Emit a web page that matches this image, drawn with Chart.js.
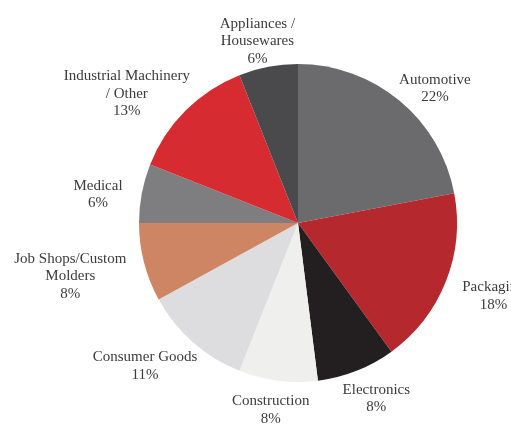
<!DOCTYPE html>
<html>
<head>
<meta charset="utf-8">
<script src="https://cdn.jsdelivr.net/npm/chart.js@4/dist/chart.umd.min.js"></script>
<style>
  html, body { margin: 0; padding: 0; background: #ffffff; }
  #wrap { width: 511px; height: 433px; position: relative; }
</style>
</head>
<body>
<div id="wrap"><canvas id="marketChart"></canvas></div>
<script>
// market share by end use, clockwise from 12 o'clock
const sectors = [
    "Automotive",
    "Packaging",
    "Electronics",
    "Construction",
    "Consumer Goods",
    "Job Shops/Custom\nMolders",
    "Medical",
    "Industrial Machinery\n/ Other",
    "Appliances /\nHousewares",
];
const shares = [22, 18, 8, 8, 11, 8, 6, 13, 6];

const colours = [
    "#6b6b6e",
    "#b4282e",
    "#231f20",
    "#efefee",
    "#dddddf",
    "#cd8563",
    "#7e7e80",
    "#d62b31",
    "#4a4a4c",
];

// draws "name / NN%" outside each slice, pushed out along the bisector
// (a bit further sideways than up/down so wide labels clear the pie)
const outsideLabels = {
    id: 'outsideLabels',
    afterDatasetsDraw(chart) {
        const ctx = chart.ctx;
        const meta = chart.getDatasetMeta(0);
        const lineH = 17.5;
        const gapX = 20;
        const gapY = 6;
        ctx.save();
        ctx.font = '15px "Liberation Serif", "DejaVu Serif", serif';
        ctx.fillStyle = '#3b3b3b';
        ctx.textAlign = 'center';
        ctx.textBaseline = 'middle';
        meta.data.forEach((arc, i) => {
            const p = arc.getProps(['x', 'y', 'startAngle', 'endAngle', 'outerRadius'], true);
            const mid = (p.startAngle + p.endAngle) / 2;
            const dx = Math.cos(mid);
            const dy = Math.sin(mid);
            const lines = sectors[i].split('\n').concat([shares[i] + '%']);
            const w = Math.max(...lines.map(l => ctx.measureText(l).width));
            const h = lines.length * lineH;
            const cx = p.x + dx * (p.outerRadius + gapX + w / 2);
            const cy = p.y + dy * (p.outerRadius + gapY + h / 2) + 6;
            lines.forEach((l, j) => {
                ctx.fillText(l, cx, cy - h / 2 + lineH * (j + 0.5));
            });
        });
        ctx.restore();
    }
};

new Chart(
    document.getElementById('marketChart'),
    {
        type: 'pie',
        data: {
            labels: sectors,
            datasets: [
                {
                    data: shares,
                    backgroundColor: colours,
                    borderWidth: 0,
                }
            ]
        },
        options: {
            responsive: true,
            maintainAspectRatio: false,
            animation: false,
            layout: {
                padding: { left: 139, right: 54, top: 64, bottom: 51 }
            },
            plugins: {
                legend: { display: false },
                tooltip: { enabled: false },
            }
        },
        plugins: [outsideLabels],
    }
)
</script>
</body>
</html>
